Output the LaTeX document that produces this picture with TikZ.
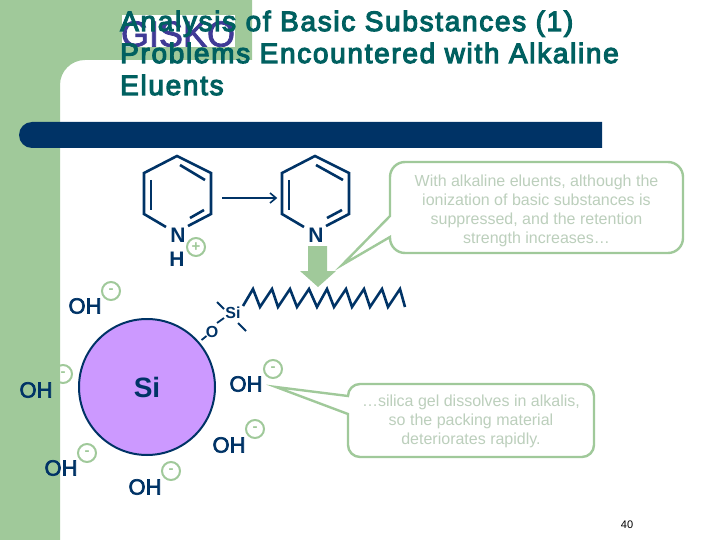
\documentclass[tikz,border=0pt]{standalone}
\usepackage{fontspec}
\setmainfont{Liberation Sans}
\newfontfamily\semib[FakeBold=3]{Liberation Sans}
\newfontfamily\titlef[FakeBold=4,LetterSpace=6]{Liberation Sans}
\newfontfamily\logof[FakeBold=2]{Liberation Sans}
\definecolor{panel}{HTML}{A0C99A}
\definecolor{navy}{HTML}{003366}
\definecolor{teal2}{HTML}{006060}
\definecolor{giskoc}{HTML}{3F3A96}
\definecolor{silica}{HTML}{CC99FF}
\definecolor{calltext}{HTML}{BCCFBC}
\tikzset{
  x=1pt,y=-1pt,
  bond/.style={draw=navy,line width=2.6pt,line cap=butt,line join=miter},
  thin bond/.style={draw=navy,line width=1.8pt},
  titleline/.style={anchor=base west,inner sep=0pt,text=teal2,font=\fontsize{28}{32}\selectfont\titlef},
  atom/.style={inner sep=0pt,text=navy,font=\fontsize{21}{24}\selectfont\bfseries},
  hydroxyl/.style={inner sep=0pt,text=navy,font=\fontsize{22}{24}\selectfont\semib},
  ioncirc/.style={circle,draw=panel,line width=2pt,minimum size=18pt,inner sep=0pt,text=panel,font=\fontsize{15}{15}\selectfont\bfseries},
  callbox/.style={draw=panel,line width=2.4pt,fill=white,line join=miter},
  calltxt/.style={inner sep=0pt,align=center,text=calltext,font=\fontsize{16}{19}\selectfont},
}
\begin{document}
\begin{tikzpicture}
\useasboundingbox (0,0) rectangle (720,540);
% background panel
\fill[panel] (0,0) -- (252,0) -- (252,60) [rounded corners=25] -- (60,60) [sharp corners] -- (60,540) -- (0,540) -- cycle;
% bar
\fill[navy] (602,122) [rounded corners=13] -- (19,122) -- (19,148) [sharp corners] -- (602,148) -- cycle;
% logo
\fill[white] (122,15) rectangle (235,47);
\node[inner sep=0pt,text=giskoc,font=\fontsize{36}{36}\selectfont\logof] (logo) at (178,34) {GISKO};
% title
\node[titleline] (t1) at (120,31) {Analysis of Basic Substances (1)};
\node[titleline] (t2) at (120,63) {Problems Encountered with Alkaline};
\node[titleline] (t3) at (120,95) {Eluents};
% left pyridinium
\node[atom] (n1) at (178,235) {N};
\node[atom] (h1) at (177,259) {H};
\node[ioncirc] (plus) at (196,247) {+};
\coordinate (a1) at (177,156); \coordinate (a2) at (144,173); \coordinate (a3) at (144,214);
\coordinate (a4) at (166,227); \coordinate (a5) at (188,226); \coordinate (a6) at (211,214); \coordinate (a7) at (211,173);
\coordinate (a8) at (151,180); \coordinate (a9) at (151,210);
\coordinate (a10) at (180,165); \coordinate (a11) at (205,180);
\coordinate (a12) at (190,218); \coordinate (a13) at (204,210);
\draw[bond] (a4) -- (a3) -- (a2) -- (a1) -- (a7) -- (a6) -- (a5);
\draw[bond] (a8) -- (a9);
\draw[bond] (a10) -- (a11);
\draw[bond] (a12) -- (a13);
% right pyridine
\node[atom] (n2) at (316,235) {N};
\coordinate (b1) at (315,156); \coordinate (b2) at (282,173); \coordinate (b3) at (282,214);
\coordinate (b4) at (304,227); \coordinate (b5) at (326,226); \coordinate (b6) at (349,214); \coordinate (b7) at (349,173);
\coordinate (b8) at (289,180); \coordinate (b9) at (289,210);
\coordinate (b10) at (316,165); \coordinate (b11) at (343,180);
\coordinate (b12) at (327,218); \coordinate (b13) at (342,210);
\draw[bond] (b4) -- (b3) -- (b2) -- (b1) -- (b7) -- (b6) -- (b5);
\draw[bond] (b8) -- (b9);
\draw[bond] (b10) -- (b11);
\draw[bond] (b12) -- (b13);
% reaction arrow
\coordinate (r1) at (222,198); \coordinate (r2) at (276,198);
\draw[navy,line width=1.6pt] (r1) -- (r2);
\draw[navy,line width=1.6pt] (270,193) -- (r2) -- (270,203);
% green block arrow
\fill[panel] (308,246) -- (327,246) -- (327,271) -- (336,271) -- (318,287) -- (300,271) -- (308,271) -- cycle;
% silica sphere
\node[circle,draw=navy,line width=2pt,fill=silica,minimum size=136pt,inner sep=0pt] (sphere) at (147,387) {};
\node[inner sep=0pt,text=navy,font=\fontsize{28}{28}\selectfont\bfseries] (sil) at (147,387) {Si};
% bonded phase
\node[inner sep=0pt,text=navy,font=\fontsize{16}{16}\selectfont\bfseries] (osm) at (212,332) {O};
\node[inner sep=0pt,text=navy,font=\fontsize{16}{16}\selectfont\bfseries] (sism) at (233,313) {Si};
\coordinate (c0) at (201.5,340); \coordinate (c1) at (206.5,336);
\coordinate (c2) at (217,323); \coordinate (c3) at (224,318);
\draw[thin bond] (c0) -- (c1);
\draw[thin bond] (c2) -- (c3);
\coordinate (t1a) at (217,302); \coordinate (t1b) at (224,309);
\coordinate (t2a) at (238,323); \coordinate (t2b) at (246,331);
\draw[thin bond] (t1a) -- (t1b);
\draw[thin bond] (t2a) -- (t2b);
\draw[bond] (243,306) -- (253,289) -- (260,307) -- (272,289) -- (278,307) -- (290,289) -- (297,307) -- (309,289) -- (317,307) -- (327,289) -- (334,307) -- (346,289) -- (352,307) -- (364,289) -- (370,307) -- (382,289) -- (388,307) -- (400,289) -- (405,307);
% OH groups
\node[hydroxyl] (oh1) at (85,306) {OH};
\node[hydroxyl] (oh2) at (36,390) {OH};
\node[hydroxyl] (oh3) at (61,468) {OH};
\node[hydroxyl] (oh4) at (145,487) {OH};
\node[hydroxyl] (oh5) at (246,384) {OH};
\node[hydroxyl] (oh6) at (229,445) {OH};
\node[ioncirc] (m1) at (111,291) {-};
\node[ioncirc] (m2) at (63,374) {-};
\node[ioncirc] (m3) at (87,453) {-};
\node[ioncirc] (m4) at (171,471) {-};
\node[ioncirc] (m5) at (273,369) {-};
\node[ioncirc] (m6) at (255,429) {-};
% callouts
\draw[callbox] (342,265) -- (390,216) [rounded corners=15] -- (390,162) -- (683,162) -- (683,253) -- (390,253) [sharp corners] -- (390,237) -- cycle;
\node[calltxt] (c1t) at (536.5,210.5) {With alkaline eluents, although the\\ionization of basic substances is\\suppressed, and the retention\\strength increases…};
\draw[callbox] (276,387) -- (348,396) [rounded corners=12] -- (348,384) -- (594,384) -- (594,457) -- (348,457) [sharp corners] -- (348,414) -- cycle;
\node[calltxt] (c2t) at (471,421) {…silica gel dissolves in alkalis,\\so the packing material\\deteriorates rapidly.};
% page number
\node[inner sep=0pt,font=\fontsize{11}{11}\selectfont] (pg) at (627,525) {40};
\end{tikzpicture}
\end{document}
